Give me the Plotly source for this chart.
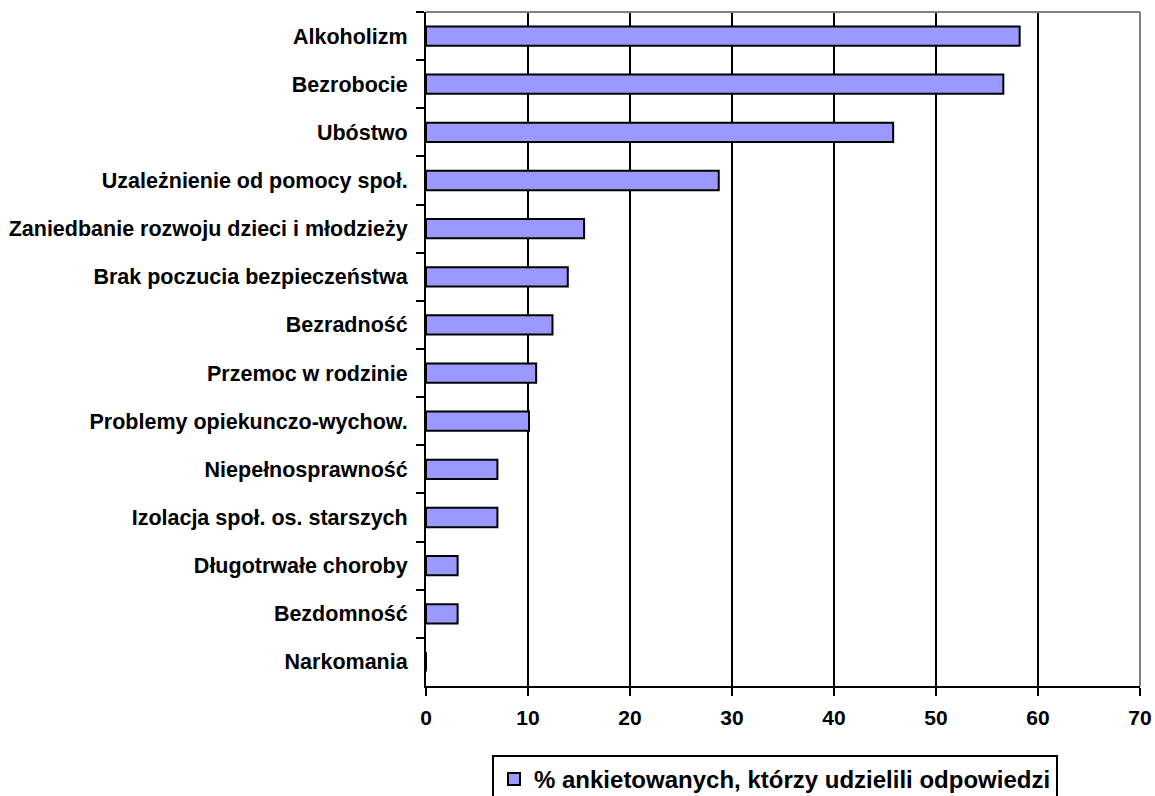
import plotly.graph_objects as go

categories = [
    "Alkoholizm",
    "Bezrobocie",
    "Ubóstwo",
    "Uzależnienie od pomocy społ.",
    "Zaniedbanie rozwoju dzieci i młodzieży",
    "Brak poczucia bezpieczeństwa",
    "Bezradność",
    "Przemoc w rodzinie",
    "Problemy opiekunczo-wychow.",
    "Niepełnosprawność",
    "Izolacja społ. os. starszych",
    "Długotrwałe choroby",
    "Bezdomność",
    "Narkomania",
]
values = [58.2, 56.6, 45.8, 28.7, 15.5, 13.9, 12.4, 10.8, 10.1, 7.0, 7.0, 3.1, 3.1, 0.0]
series_name = "% ankietowanych, którzy udzielili odpowiedzi"
x_ticks = [0, 10, 20, 30, 40, 50, 60, 70]

FONT = "Liberation Sans, Arial, sans-serif"

fig = go.Figure()
fig.add_trace(go.Bar(
    y=categories,
    x=values,
    orientation="h",
    name=series_name,
    marker=dict(color="#9999FF", line=dict(color="black", width=2)),
    showlegend=True,
))

fig.update_layout(
    width=1155,
    height=796,
    margin=dict(l=426, r=15, t=12, b=110, autoexpand=False),
    paper_bgcolor="white",
    plot_bgcolor="white",
    bargap=0.6,
    font=dict(family=FONT, color="black", size=21, weight="bold"),
    xaxis=dict(
        range=[0, 70],
        tickvals=x_ticks,
        ticktext=[str(v) for v in x_ticks],
        showgrid=True,
        gridcolor="black",
        gridwidth=2,
        showline=True,
        linecolor="black",
        linewidth=2,
        ticks="outside",
        ticklen=8,
        tickwidth=2,
        tickcolor="black",
        tickfont=dict(family=FONT, size=21, color="black", weight="bold"),
        ticklabelstandoff=4,
        zeroline=False,
        fixedrange=True,
    ),
    yaxis=dict(
        type="category",
        categoryorder="array",
        categoryarray=categories,
        autorange="reversed",
        showgrid=False,
        showline=True,
        linecolor="black",
        linewidth=2,
        ticks="outside",
        tickson="boundaries",
        ticklen=8,
        tickwidth=2,
        tickcolor="black",
        tickfont=dict(family=FONT, size=21.5, color="black", weight="bold"),
        ticklabelstandoff=12,
        zeroline=False,
        fixedrange=True,
    ),
    legend=dict(
        x=(492 - 426) / 714,
        y=(686 - 755) / 674,
        xanchor="left",
        yanchor="top",
        orientation="h",
        bgcolor="white",
        bordercolor="black",
        borderwidth=2,
        font=dict(family=FONT, size=24, color="black", weight="bold"),
        itemsizing="constant",
    ),
    shapes=[
        dict(type="line", xref="paper", yref="paper", x0=0, x1=1, y0=1, y1=1,
             line=dict(color="#808080", width=2), layer="above"),
        dict(type="line", xref="paper", yref="paper", x0=1, x1=1, y0=0, y1=1,
             line=dict(color="#808080", width=2), layer="above"),
    ],
)

fig.write_html(
    "out.html",
    config={"displayModeBar": False},
    post_script="document.body.style.margin='0';document.body.style.overflow='hidden';",
)
